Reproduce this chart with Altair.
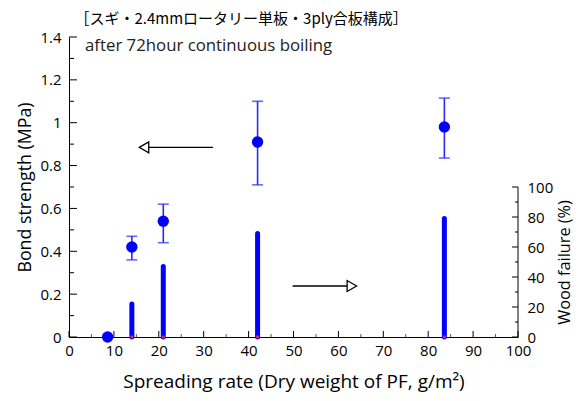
import altair as alt
import pandas as pd

# ---- data ----
spread = [8.6, 14.0, 21.0, 42.0, 83.6]          # g/m2
bond = [0.0, 0.42, 0.54, 0.91, 0.98]            # MPa
bond_lo = [None, 0.36, 0.44, 0.71, 0.835]
bond_hi = [None, 0.47, 0.62, 1.10, 1.115]
wood = [0, 22, 47, 69, 79]                      # %

x_major = [0, 10, 20, 30, 40, 50, 60, 70, 80, 90, 100]
x_minor = [5, 15, 25, 35, 45, 55, 65, 75, 85, 95]
yl_major = [0, 0.2, 0.4, 0.6, 0.8, 1.0, 1.2, 1.4]
yl_minor = [0.1, 0.3, 0.5, 0.7, 0.9, 1.1, 1.3]
yr_major = [0, 20, 40, 60, 80, 100]
yr_minor = [10, 30, 50, 70, 90]

# arrows (annotation positions in data units)
arrowL_line = [32.1, 16.7]
arrowL_head = 16.7
arrowL_y = 0.885
arrowR_line = [49.8, 63.0]
arrowR_head = 63.0
arrowR_y = 0.238

title_text = "［スギ・2.4mmロータリー単板・3ply合板構成］"
sub_text = "after 72hour continuous boiling"

W, H = 449, 300
FONT = "Open Sans"
JFONT = "Noto Sans CJK JP"

df = pd.DataFrame({"x": spread, "y": bond, "lo": bond_lo, "hi": bond_hi, "w": wood})
df_err = df.dropna()

xscale = alt.Scale(domain=[0, 100], nice=False, zero=False)
xaxis = alt.Axis(values=x_major, ticks=False, domainColor="black", labelColor="black",
                 labelFontSize=15, labelPadding=6, grid=False, labelFlush=False,
                 titleFontSize=19, titleFontWeight="normal", titleColor="black",
                 titleY=44, titleBaseline="middle", labelFont=FONT, titleFont=FONT)
XT = "Spreading rate (Dry weight of PF, g/m²)"

lscale = alt.Scale(domain=[0, 1.4], nice=False, zero=False)
laxis = alt.Axis(values=yl_major, ticks=False, domainColor="black", labelColor="black",
                 labelFontSize=15, labelPadding=8, grid=False, format=".1~f", orient="left",
                 labelFlush=False,
                 titleFontSize=17.8, titleFontWeight="normal", titleColor="black",
                 titleAngle=270, titleX=-44, titleBaseline="middle",
                 labelFont=FONT, titleFont=FONT)
LT = "Bond strength (MPa)"

rscale = alt.Scale(domain=[0, 200], nice=False, zero=False)
raxis = alt.Axis(values=yr_major, ticks=False, domain=False, labelColor="black",
                 labelFontSize=15, labelPadding=9, grid=False, orient="right",
                 labelFlush=False,
                 titleFontSize=16.3, titleFontWeight="normal", titleColor="black",
                 titleAngle=270, titleX=46, titleY=225, titleBaseline="middle",
                 labelFont=FONT, titleFont=FONT)
RT = "Wood failure (%)"


def X(f):
    return alt.X(f, type="quantitative", scale=xscale, axis=xaxis, title=XT)


def LY(f):
    return alt.Y(f, type="quantitative", scale=lscale, axis=laxis, title=LT)


def RY(f):
    return alt.Y(f, type="quantitative", scale=rscale, axis=raxis, title=RT)


BLUE = "#0000ff"
EBLUE = "#2a2aff"

# ---------- left (bond strength) layer ----------
errs = alt.Chart(df_err).mark_rule(color=EBLUE, strokeWidth=1.6).encode(
    x=X("x"), y=LY("lo"), y2="hi")
cap_lo = alt.Chart(df_err).mark_tick(color=EBLUE, orient="horizontal", size=11, thickness=1.6).encode(
    x=X("x"), y=LY("lo"))
cap_hi = alt.Chart(df_err).mark_tick(color=EBLUE, orient="horizontal", size=11, thickness=1.6).encode(
    x=X("x"), y=LY("hi"))
pts = alt.Chart(df).mark_point(filled=True, color=BLUE, size=130, opacity=1, shape="circle").encode(
    x=X("x"), y=LY("y"))

tickL_maj = alt.Chart(pd.DataFrame({"v": yl_major})).mark_rule(color="black", strokeWidth=1).encode(
    y=LY("v"), x=alt.value(0), x2=alt.value(8))
tickL_min = alt.Chart(pd.DataFrame({"v": yl_minor})).mark_rule(color="black", strokeWidth=1).encode(
    y=LY("v"), x=alt.value(0), x2=alt.value(5))
tickX_maj = alt.Chart(pd.DataFrame({"v": x_major})).mark_rule(color="black", strokeWidth=1).encode(
    x=X("v"), y=alt.value(H), y2=alt.value(H - 6))
tickX_min = alt.Chart(pd.DataFrame({"v": x_minor})).mark_rule(color="#555555", strokeWidth=1).encode(
    x=X("v"), y=alt.value(H), y2=alt.value(H - 3))

arrows_df = pd.DataFrame({
    "x1": [arrowL_line[0], arrowR_line[0]],
    "x2": [arrowL_line[1], arrowR_line[1]],
    "y": [arrowL_y, arrowR_y],
})
arrow_lines = alt.Chart(arrows_df).mark_rule(color="black", strokeWidth=1.3).encode(
    x=X("x1"), x2="x2", y=LY("y"))
headL = alt.Chart(pd.DataFrame({"x": [arrowL_head], "y": [arrowL_y]})).mark_point(
    shape="triangle-left", filled=True, fill="white", stroke="black", strokeWidth=1.3,
    size=120, opacity=1).encode(x=X("x"), y=LY("y"))
headR = alt.Chart(pd.DataFrame({"x": [arrowR_head], "y": [arrowR_y]})).mark_point(
    shape="triangle-right", filled=True, fill="white", stroke="black", strokeWidth=1.3,
    size=120, opacity=1).encode(x=X("x"), y=LY("y"))

title = alt.Chart(pd.DataFrame({"t": [title_text]})).mark_text(
    align="left", baseline="middle", fontSize=15, font=JFONT, color="black").encode(
    text="t:N", x=alt.value(5.5), y=alt.value(-18))
sub = alt.Chart(pd.DataFrame({"t": [sub_text]})).mark_text(
    align="left", baseline="middle", fontSize=16.8, font=FONT, color="#222222").encode(
    text="t:N", x=alt.value(16), y=alt.value(9))

left = alt.layer(tickL_maj, tickL_min, tickX_maj, tickX_min, arrow_lines, headL, headR,
                 errs, cap_lo, cap_hi, pts, title, sub)

# ---------- right (wood failure) layer ----------
wdf = df[df["w"] > 0]
bars = alt.Chart(wdf).mark_rule(color=BLUE, strokeWidth=5, strokeCap="round").encode(
    x=X("x"), y=RY("w"), y2=alt.datum(0))
reddots = alt.Chart(wdf).mark_point(filled=True, color="#ff3333", size=12, opacity=0.8).encode(
    x=X("x"), y=alt.Y("zero:Q", scale=rscale, axis=raxis, title=RT)).transform_calculate(zero="0")
raxis_line = alt.Chart(pd.DataFrame({"a": [0], "b": [100]})).mark_rule(color="black", strokeWidth=1).encode(
    y=RY("a"), y2="b", x=alt.value(W))
tickR_maj = alt.Chart(pd.DataFrame({"v": yr_major})).mark_rule(color="black", strokeWidth=1).encode(
    y=RY("v"), x=alt.value(W), x2=alt.value(W - 6))
tickR_min = alt.Chart(pd.DataFrame({"v": yr_minor})).mark_rule(color="black", strokeWidth=1).encode(
    y=RY("v"), x=alt.value(W), x2=alt.value(W - 3))

right = alt.layer(raxis_line, tickR_maj, tickR_min, bars, reddots)

chart = alt.layer(right, left).resolve_scale(y="independent").properties(
    width=W, height=H,
    autosize=alt.AutoSizeParams(type="none"),
    padding={"left": 61, "top": 29, "right": 55, "bottom": 56},
    background="white",
).configure_view(stroke=None)

chart.save("out.html", embed_options={"renderer": "svg", "actions": False})
